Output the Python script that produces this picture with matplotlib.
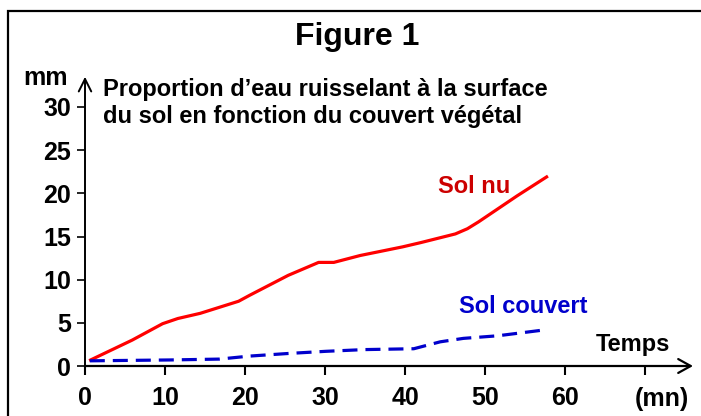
import matplotlib
matplotlib.use("Agg")
import matplotlib.pyplot as plt
from matplotlib.patches import Rectangle

plt.rcParams['font.family'] = ['Liberation Sans', 'DejaVu Sans']
plt.rcParams['font.weight'] = 'bold'

# data
t_nu = [0.7, 5.9, 9.7, 11.6, 14.4, 19.2, 20.6, 25.4, 29.2, 31.1, 34.4, 39.7, 42.0, 46.3, 47.8, 49.2, 54.0, 57.7]
sol_nu = [0.7, 3.0, 4.9, 5.5, 6.1, 7.5, 8.2, 10.5, 12.0, 12.0, 12.8, 13.8, 14.3, 15.3, 15.9, 16.7, 19.7, 21.9]
t_couv = [0.6, 10.6, 16.8, 20.6, 25.4, 30.1, 34.9, 41.1, 44.4, 47.3, 51.6, 57.6]
sol_couv = [0.6, 0.7, 0.8, 1.15, 1.45, 1.7, 1.9, 2.0, 2.8, 3.2, 3.5, 4.2]
x_ticks = [0, 10, 20, 30, 40, 50, 60, 70]
x_labels = ['0', '10', '20', '30', '40', '50', '60', '']
y_ticks = [0, 5, 10, 15, 20, 25, 30]

W, H = 701, 416
fig = plt.figure(figsize=(W / 100, H / 100), dpi=100)
# frame around the whole figure (right and bottom sides fall off the canvas)
fig.patches.append(Rectangle((8 / W, -0.1), 1.1, 1.1 - 11 / H, transform=fig.transFigure,
                             fill=False, edgecolor='black', linewidth=1.6))

ax = fig.add_axes([85 / W, 50 / H, 560 / W, 259 / H])
ax.set_xlim(0, 70)
ax.set_ylim(0, 30)
for s in ax.spines.values():
    s.set_visible(False)
ax.patch.set_alpha(0)

# axes with arrows
ax.annotate('', xy=(76, 0), xytext=(0, 0), annotation_clip=False,
            arrowprops=dict(arrowstyle='->,head_length=0.9,head_width=0.5', color='black', lw=1.6,
                            shrinkA=0, shrinkB=0))
ax.annotate('', xy=(0, 33.5), xytext=(0, 0), annotation_clip=False,
            arrowprops=dict(arrowstyle='->,head_length=0.9,head_width=0.45', color='black', lw=1.4,
                            shrinkA=0, shrinkB=0))

ax.set_xticks(x_ticks)
ax.set_xticklabels(x_labels)
ax.set_yticks(y_ticks)
ax.tick_params(axis='x', direction='out', length=6.5, width=1.5, labelsize=18, pad=8)
ax.tick_params(axis='y', direction='out', length=6, width=1.2, labelsize=18, pad=4)

ax.plot(t_nu, sol_nu, color='#ff0000', lw=2.3, solid_joinstyle='round', clip_on=False)
ax.plot(t_couv, sol_couv, color='#0000cc', lw=2.3, dashes=(4.7, 2.5), clip_on=False)

ax.text(48.6, 20.0, 'Sol nu', color='#cc0000', fontsize=17, ha='center', va='baseline')
ax.text(54.75, 6.15, 'Sol couvert', color='#0000cc', fontsize=17, ha='center', va='baseline')
ax.text(68.5, 1.74, 'Temps', color='black', fontsize=17, ha='center', va='baseline')
ax.text(72.1, -4.6, '(mn)', color='black', fontsize=18, ha='center', va='baseline')

fig.text(45.5 / W, 1 - 85 / H, 'mm', fontsize=18, ha='center', va='baseline')
fig.text(357 / W, 1 - 45 / H, 'Figure 1', fontsize=23, ha='center', va='baseline')
fig.text(103 / W, 1 - 96 / H, 'Proportion d\u2019eau ruisselant à la surface', fontsize=17,
         ha='left', va='baseline')
fig.text(103 / W, 1 - 122.5 / H, 'du sol en fonction du couvert végétal', fontsize=17,
         ha='left', va='baseline')

fig.savefig('out.png', dpi=100)
